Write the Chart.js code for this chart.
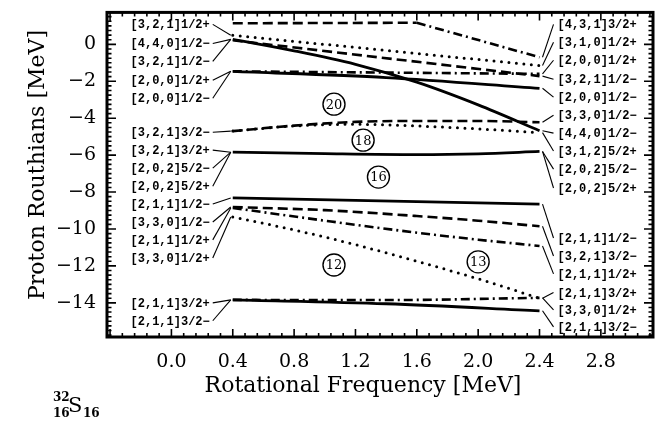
<!DOCTYPE html>
<html>
<head>
<meta charset="utf-8">
<script src="https://cdn.jsdelivr.net/npm/chart.js@4.4.1/dist/chart.umd.min.js"></script>
<style>
  html, body { margin: 0; padding: 0; background: #fff; }
  canvas { display: block; }
</style>
</head>
<body>
<canvas id="routhianChart" width="672" height="428"></canvas>
<script>
// ===== Proton Routhians of 32S vs rotational frequency =====

// Axis tick labels
const xTickValues = [0.0, 0.4, 0.8, 1.2, 1.6, 2.0, 2.4, 2.8];
const yTickValues = [0, -2, -4, -6, -8, -10, -12, -14];

// Routhian curves (frequency in MeV, energy in MeV)
const freqA = [0.4, 1.6, 2.4];            const eA = [1.14, 1.17, -0.70];   // dash -> dash-dot
const freqB = [0.4, 2.4];                 const eB = [0.49, -1.15];         // dotted
const freqC = [0.4, 0.8, 1.2, 1.6, 2.0, 2.4]; const eC = [0.27, -0.35, -1.08, -2.05, -3.28, -4.68]; // solid
const freqD = [0.4, 2.4];                 const eD = [0.22, -1.72];         // dashed
const freqE = [0.4, 2.4];                 const eE = [-1.46, -1.60];        // dash-dot
const freqF = [0.4, 1.4, 2.4];            const eF = [-1.46, -1.80, -2.38]; // solid
const freqG = [0.4, 0.8, 1.2, 1.6, 2.0, 2.4]; const eG = [-4.70, -4.40, -4.20, -4.15, -4.15, -4.22]; // dashed
const freqG2 = [0.4, 0.8, 1.2, 1.6, 2.0, 2.4]; const eG2 = [-4.70, -4.42, -4.33, -4.42, -4.58, -4.78]; // dotted
const freqH = [0.4, 1.0, 1.6, 2.0, 2.4];  const eH = [-5.84, -5.92, -5.97, -5.93, -5.80]; // solid
const freqI = [0.4, 2.4];                 const eI = [-8.32, -8.65];        // solid
const freqJ = [0.4, 1.0, 1.6, 2.0, 2.4];  const eJ = [-8.81, -8.98, -9.30, -9.55, -9.85]; // dashed
const freqK = [0.4, 1.0, 1.6, 2.0, 2.4];  const eK = [-8.86, -9.55, -10.20, -10.58, -10.92]; // dash-dot
const freqL = [0.4, 0.8, 1.2, 1.6, 2.0, 2.4]; const eL = [-9.35, -10.05, -10.85, -11.75, -12.70, -13.75]; // dotted
const freqM = [0.4, 1.4, 2.4];            const eM = [-13.84, -14.05, -14.43]; // solid
const freqM2 = [0.4, 1.4, 2.4];           const eM2 = [-13.84, -13.85, -13.73]; // dash-dot

// Circled particle numbers
const shellText = ['20', '18', '16', '12', '13'];
const shellFreq = [1.06, 1.25, 1.35, 1.06, 2.00];
const shellE = [-3.24, -5.19, -7.19, -11.95, -11.78];

// Orbital labels and which curve each one points to
const leftLabels = ['[3,2,1]1/2+', '[4,4,0]1/2\u2212', '[3,2,1]1/2\u2212', '[2,0,0]1/2+', '[2,0,0]1/2\u2212',
  '[3,2,1]3/2\u2212', '[3,2,1]3/2+', '[2,0,2]5/2\u2212', '[2,0,2]5/2+',
  '[2,1,1]1/2\u2212', '[3,3,0]1/2\u2212', '[2,1,1]1/2+', '[3,3,0]1/2+',
  '[2,1,1]3/2+', '[2,1,1]3/2\u2212'];
const leftTargets = ['B', 'C', 'C', 'E', 'E', 'G', 'H', 'H', 'H', 'I', 'J', 'K', 'L', 'M', 'M'];

const rightLabels = ['[4,3,1]3/2+', '[3,1,0]1/2+', '[2,0,0]1/2+', '[3,2,1]1/2\u2212', '[2,0,0]1/2\u2212',
  '[3,3,0]1/2\u2212', '[4,4,0]1/2\u2212', '[3,1,2]5/2+', '[2,0,2]5/2\u2212', '[2,0,2]5/2+',
  '[2,1,1]1/2\u2212', '[3,2,1]3/2\u2212', '[2,1,1]1/2+', '[2,1,1]3/2+', '[3,3,0]1/2+', '[2,1,1]3/2\u2212'];
const rightTargets = ['A', 'B', 'E', 'D', 'F', 'G', 'C', 'G2', 'H', 'H', 'I', 'J', 'K', 'L', 'M2', 'M'];

// Label rows (layout, in energy units)
const leftRows = [1.08, 0.05, -0.92, -1.95, -2.92, -4.76, -5.73, -6.70, -7.68, -8.65, -9.62, -10.59, -11.57, -14.00, -14.97];
const rightRows = [1.08, 0.11, -0.86, -1.89, -2.86, -3.84, -4.81, -5.78, -6.76, -7.78, -10.49, -11.46, -12.43, -13.44, -14.38, -15.30];

// ---- styles ----
const SOLID = [];
const DASH = [10, 5];
const DOT = [0, 7.5];
const DASHDOT = [9, 4, 2, 4];
const SERIF = '"DejaVu Serif"';

const curves = {
  A:  { f: freqA,  e: eA,  dash: DASH },
  B:  { f: freqB,  e: eB,  dash: DOT },
  C:  { f: freqC,  e: eC,  dash: SOLID },
  D:  { f: freqD,  e: eD,  dash: DASH },
  E:  { f: freqE,  e: eE,  dash: DASHDOT },
  F:  { f: freqF,  e: eF,  dash: SOLID },
  G:  { f: freqG,  e: eG,  dash: DASH },
  G2: { f: freqG2, e: eG2, dash: DOT },
  H:  { f: freqH,  e: eH,  dash: SOLID },
  I:  { f: freqI,  e: eI,  dash: SOLID },
  J:  { f: freqJ,  e: eJ,  dash: DASH },
  K:  { f: freqK,  e: eK,  dash: DASHDOT },
  L:  { f: freqL,  e: eL,  dash: DOT },
  M:  { f: freqM,  e: eM,  dash: SOLID },
  M2: { f: freqM2, e: eM2, dash: DASHDOT }
};

function pts(xs, ys) {
  return xs.map((v, i) => ({ x: v, y: ys[i] }));
}

const datasets = [{
  label: 'shells',
  data: pts(shellFreq, shellE),
  showLine: false,
  pointRadius: 11,
  pointBackgroundColor: '#fff',
  pointBorderColor: '#000',
  pointBorderWidth: 1.4
}];

Object.keys(curves).forEach(key => {
  const c = curves[key];
  const dotted = c.dash === DOT;
  const ds = {
    label: key,
    data: pts(c.f, c.e),
    borderColor: '#000',
    borderWidth: dotted ? 3 : (c.dash === SOLID ? 2.8 : 2.6),
    borderDash: c.dash,
    borderCapStyle: dotted ? 'round' : 'butt',
    pointRadius: 0,
    fill: false,
    cubicInterpolationMode: 'monotone'
  };
  if (key === 'A') {
    ds.cubicInterpolationMode = 'default';
    ds.tension = 0;
    ds.segment = { borderDash: ctx => ctx.p0DataIndex === 0 ? DASH : DASHDOT };
  }
  datasets.push(ds);
});

// frame, inward ticks, labels, connectors, circled numbers, titles
const decorPlugin = {
  id: 'decor',
  afterDatasetsDraw(chart) {
    const { ctx, scales: { x, y } } = chart;
    const xl = x.getPixelForValue(0.4);
    const xr = x.getPixelForValue(2.4);
    ctx.save();
    ctx.fillStyle = '#000';
    ctx.strokeStyle = '#000';
    ctx.lineWidth = 1.1;
    ctx.font = 'bold 12px "Liberation Mono"';
    ctx.textBaseline = 'middle';

    ctx.textAlign = 'right';
    leftLabels.forEach((txt, i) => {
      const ly = y.getPixelForValue(leftRows[i]);
      const ty = y.getPixelForValue(curves[leftTargets[i]].e[0]);
      ctx.fillText(txt, xl - 23, ly + 1);
      ctx.beginPath();
      ctx.moveTo(xl - 20, ly);
      ctx.lineTo(xl - 2, ty);
      ctx.stroke();
    });

    ctx.textAlign = 'left';
    rightLabels.forEach((txt, i) => {
      const c = curves[rightTargets[i]];
      const ly = y.getPixelForValue(rightRows[i]);
      const ty = y.getPixelForValue(c.e[c.e.length - 1]);
      ctx.fillText(txt, xr + 18, ly + 1);
      ctx.beginPath();
      ctx.moveTo(xr + 3, ty);
      ctx.lineTo(xr + 14, ly);
      ctx.stroke();
    });

    // circled numbers
    ctx.font = '13px ' + SERIF;
    ctx.textAlign = 'center';
    shellText.forEach((t, i) => {
      ctx.fillText(t, x.getPixelForValue(shellFreq[i]), y.getPixelForValue(shellE[i]) + 1);
    });
    ctx.restore();
  },
  afterDraw(chart) {
    const { ctx, chartArea: a, scales: { x, y } } = chart;
    ctx.save();
    ctx.strokeStyle = '#000';
    ctx.lineWidth = 1.6;
    ctx.beginPath();
    // x ticks every 0.08, major every 0.4
    const x0 = Math.ceil(x.min / 0.08 - 1e-6);
    const x1 = Math.floor(x.max / 0.08 + 1e-6);
    for (let i = x0; i <= x1; i++) {
      const px = x.getPixelForValue(i * 0.08);
      const len = i % 5 === 0 ? 8 : 4;
      ctx.moveTo(px, a.bottom); ctx.lineTo(px, a.bottom - len);
      ctx.moveTo(px, a.top); ctx.lineTo(px, a.top + len);
    }
    // y ticks every 0.25, major every 2
    const y0 = Math.ceil(y.min / 0.25 - 1e-6);
    const y1 = Math.floor(y.max / 0.25 + 1e-6);
    for (let i = y0; i <= y1; i++) {
      const py = y.getPixelForValue(i * 0.25);
      const len = i % 8 === 0 ? 9 : 4.5;
      ctx.moveTo(a.left, py); ctx.lineTo(a.left + len, py);
      ctx.moveTo(a.right, py); ctx.lineTo(a.right - len, py);
    }
    ctx.stroke();
    ctx.lineWidth = 3;
    ctx.strokeRect(a.left, a.top, a.right - a.left, a.bottom - a.top);

    ctx.fillStyle = '#000';
    ctx.textBaseline = 'middle';
    ctx.textAlign = 'center';
    ctx.font = '22px ' + SERIF;
    ctx.fillText('Rotational Frequency [MeV]', 363, 386);
    ctx.save();
    ctx.translate(38, 165);
    ctx.rotate(-Math.PI / 2);
    ctx.fillText('Proton Routhians [MeV]', 0, 0);
    ctx.restore();

    // nuclide tag
    ctx.textBaseline = 'alphabetic';
    ctx.textAlign = 'left';
    ctx.font = 'bold 12px ' + SERIF;
    ctx.fillText('32', 53, 401);
    ctx.fillText('16', 53, 417);
    ctx.fillText('16', 83, 417);
    ctx.font = '21px ' + SERIF;
    ctx.fillText('S', 68, 412);
    ctx.restore();
  }
};

const ctx = document.getElementById('routhianChart').getContext('2d');
new Chart(ctx, {
  type: 'line',
  data: { datasets },
  options: {
    responsive: false,
    animation: false,
    layout: { padding: { left: 0, right: 19, top: 12, bottom: 0 } },
    plugins: { legend: { display: false }, tooltip: { enabled: false } },
    scales: {
      x: {
        type: 'linear',
        min: -0.42,
        max: 3.14,
        afterFit: s => { s.height = 91; },
        afterBuildTicks: s => { s.ticks = xTickValues.map(v => ({ value: v })); },
        grid: { display: false, drawTicks: false },
        border: { display: false },
        ticks: {
          padding: 14,
          color: '#000',
          font: { family: 'DejaVu Serif', size: 19 },
          callback: v => Number(v).toFixed(1)
        }
      },
      y: {
        type: 'linear',
        min: -15.85,
        max: 1.73,
        afterFit: s => { s.width = 107; },
        afterBuildTicks: s => { s.ticks = yTickValues.map(v => ({ value: v })); },
        grid: { display: false, drawTicks: true, tickLength: 11 },
        border: { display: false },
        ticks: {
          padding: 0,
          color: '#000',
          font: { family: 'DejaVu Serif', size: 19 },
          callback: v => v < 0 ? '\u2212' + Math.abs(v) : String(v)
        }
      }
    }
  },
  plugins: [decorPlugin]
});
</script>
</body>
</html>
